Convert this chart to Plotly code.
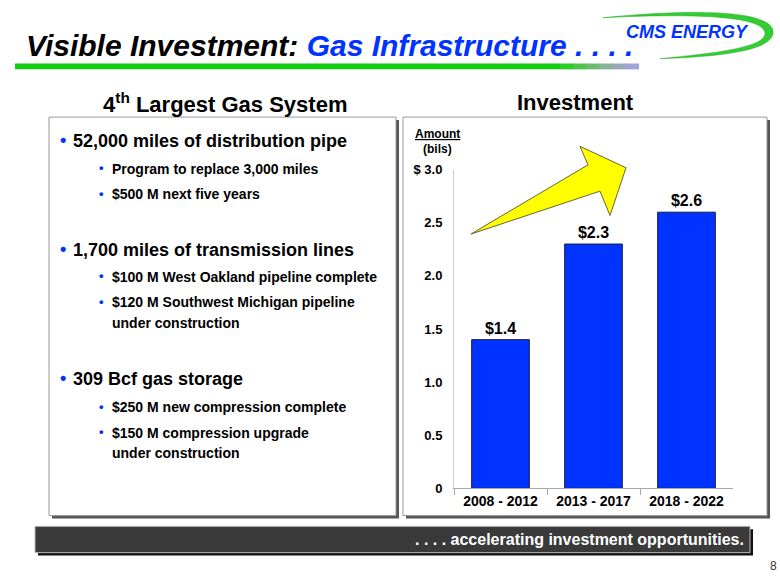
import plotly.graph_objects as go

W, H = 780, 585

periods = ["2008 - 2012", "2013 - 2017", "2018 - 2022"]
investment_bils = [1.4, 2.3, 2.6]
ytick_vals = [0, 0.5, 1.0, 1.5, 2.0, 2.5, 3.0]
ytick_text = ["0", "0.5", "1.0", "1.5", "2.0", "2.5", "$ 3.0"]

main_bullets = [
    "52,000 miles of distribution pipe",
    "1,700 miles of transmission lines",
    "309 Bcf gas storage",
]
sub_bullets = [
    [["Program to replace 3,000 miles"], ["$500 M next five years"]],
    [["$100 M West Oakland pipeline complete"], ["$120 M Southwest Michigan pipeline", "under construction"]],
    [["$250 M new compression complete"], ["$150 M compression upgrade", "under construction"]],
]

SANS = "Liberation Sans, Arial, sans-serif"
BLUE = "#0033FF"


def px(x):
    return x / W


def py(y):
    return 1 - y / H


fig = go.Figure()
fig.add_trace(go.Bar(
    x=periods, y=investment_bils,
    marker=dict(color=BLUE, line=dict(color="#1a1a40", width=1)),
    text=[f"${v}" for v in investment_bils],
    textposition="outside",
    textfont=dict(family=SANS, size=16, color="black", weight="bold"),
    cliponaxis=False,
    width=0.62,
))

shapes = []
annotations = []


def rect(x0, y0, x1, y1, fill, line=None, lw=0, layer="below"):
    shapes.append(dict(type="rect", xref="paper", yref="paper",
                       x0=px(x0), x1=px(x1), y0=py(y1), y1=py(y0),
                       fillcolor=fill, line=dict(color=line or fill, width=lw), layer=layer))


def text(x, y, s, size, color="black", xanchor="left", weight="bold", italic=False):
    annotations.append(dict(xref="paper", yref="paper", x=px(x), y=py(y), text=s,
                            showarrow=False, xanchor=xanchor, yanchor="middle",
                            font=dict(family=SANS, size=size, color=color, weight=weight,
                                      style="italic" if italic else "normal")))


# Panel boxes with shadows
rect(52, 116, 399, 525, "#555555")
rect(49, 113, 396, 522, "white", "#999999", 1)
rect(406, 116, 770, 525, "#555555")
rect(403, 113, 767, 522, "white", "#999999", 1)

# Bottom banner
rect(38, 536, 753, 563, "#111111")
rect(35, 533, 750, 560, "#3a3a3a", "#bbbbbb", 1)
text(746, 546, ". . . . accelerating investment opportunities.", 16, "white", "right")
text(773, 574, "8", 12, "#333333", "center", weight="normal")

# Title
text(24, 40, "Visible Investment: <span style='color:#0033FF'>Gas Infrastructure . . . .</span>",
     30, "black", "left", italic=True)

# Green underline with fade
rect(15, 58, 560, 64, "#11CC11")
fade = ["#2ACC2A", "#4CC44C", "#6CBB6C", "#86B39A", "#9AA8BC", "#A3A3D6"]
for i, c in enumerate(fade):
    x0 = 560 + i * 13
    rect(x0, 58, x0 + 14, 64, c)

# Logo swoosh
shapes.append(dict(type="path", xref="paper", yref="paper",
                   path=("M {} {} C {} {} {} {} {} {} C {} {} {} {} {} {} "
                         "C {} {} {} {} {} {} C {} {} {} {} {} {} Z").format(
                       px(603), py(11), px(700), py(1), px(776), py(4), px(773), py(27),
                       px(771), py(44), px(725), py(51), px(660), py(53),
                       px(720), py(47), px(765), py(41), px(765), py(27),
                       px(765), py(10), px(700), py(6), px(603), py(11)),
                   fillcolor="#33CC33", line=dict(color="#22AA22", width=0.5)))
text(687, 26, "CMS ENERGY", 18, BLUE, "center", italic=True)

# Yellow arrow
pts = [(471, 233), (588, 162), (580, 143), (626, 165), (610, 214), (600, 189)]
path = "M " + " L ".join(f"{px(a)} {py(b)}" for a, b in pts) + " Z"
shapes.append(dict(type="path", xref="paper", yref="paper", path=path,
                   fillcolor="#FFFF00", line=dict(color="#666633", width=1), layer="above"))

# Headers
text(225, 99, "4<sup>th</sup> Largest Gas System", 22, "black", "center")
text(575, 98, "Investment", 22, "black", "center")
text(437, 130, "<u>Amount</u>", 12, "black", "center")
text(437, 146, "(bils)", 12, "black", "center")

# Bullets
main_y = [138, 249, 382]
sub_y = [[166, 192], [277, 303], [411, 437]]
for mb, my, subs, sys_ in zip(main_bullets, main_y, sub_bullets, sub_y):
    text(58, my - 1, "•", 18, BLUE)
    text(71, my, mb, 18, "black")
    for lines, sy in zip(subs, sys_):
        text(97, sy - 1, "•", 13, BLUE)
        for k, ln in enumerate(lines):
            text(110, sy + 21 * k, ln, 14, "black")

fig.update_layout(
    width=W, height=H, margin=dict(l=0, r=0, t=0, b=0),
    paper_bgcolor="white", plot_bgcolor="rgba(0,0,0,0)",
    showlegend=False, bargap=0.38,
    shapes=shapes, annotations=annotations,
    xaxis=dict(domain=[px(454), px(733)], showline=True, linecolor="#aaaaaa", linewidth=1,
               ticks="outside", tickson="boundaries", ticklen=6, tickcolor="#aaaaaa",
               tickfont=dict(family=SANS, size=14, color="black", weight="bold"),
               showgrid=False, fixedrange=True),
    yaxis=dict(domain=[py(494), py(167)], range=[0, 3], tickvals=ytick_vals, ticktext=ytick_text,
               showline=True, linecolor="#cccccc", linewidth=1, ticks="", showgrid=False,
               zeroline=False, ticklabelstandoff=8,
               tickfont=dict(family=SANS, size=13, color="black", weight="bold")),
)

fig.write_html("out.html")
